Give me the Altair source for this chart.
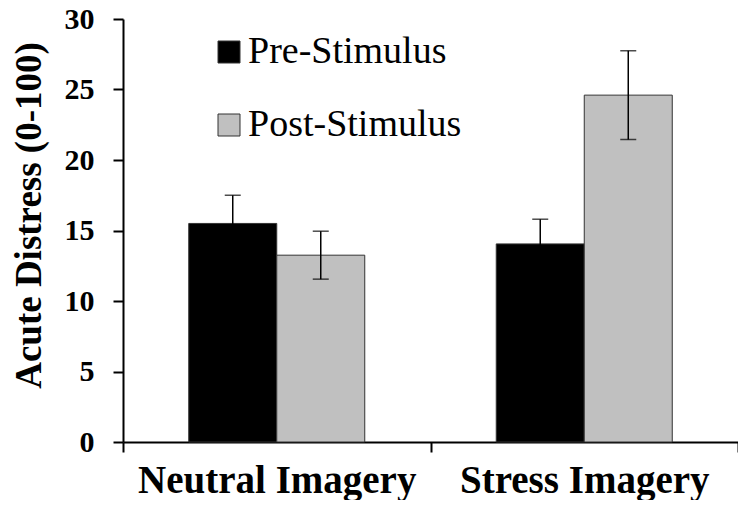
import altair as alt
import pandas as pd

categories = ["Neutral Imagery", "Stress Imagery"]
phases = ["Pre-Stimulus", "Post-Stimulus"]
pre_mean = [15.5, 14.05]
post_mean = [13.25, 24.6]
pre_err = [2.0, 1.75]
post_err = [1.7, 3.15]
y_ticks = [0, 5, 10, 15, 20, 25, 30]
colors = ["#000000", "#c0c0c0"]

rows = []
for i, c in enumerate(categories):
    for p, m, e in ((phases[0], pre_mean[i], pre_err[i]), (phases[1], post_mean[i], post_err[i])):
        rows.append({"cond": c, "phase": p, "mean": m, "lo": m - e, "hi": m + e})
df = pd.DataFrame(rows)

FONT = "Liberation Serif"

x_enc = alt.X(
    "cond:N",
    sort=categories,
    title=None,
    scale=alt.Scale(paddingInner=0, paddingOuter=0),
    axis=alt.Axis(
        tickBand="extent",
        labelFontWeight="bold",
        labelFontSize=39,
        labelBaseline="alphabetic",
        labelPadding=40,
        labelAngle=0,
        labelLimit=600,
    ),
)
xoff = alt.XOffset("phase:N", sort=phases, scale=alt.Scale(paddingInner=0, paddingOuter=0.747))

y_enc = alt.Y(
    "mean:Q",
    scale=alt.Scale(domain=[0, 30], nice=False),
    axis=alt.Axis(
        values=y_ticks,
        title="Acute Distress (0-100)",
        titleFontWeight="bold",
        titleFontSize=37,
        titleBaseline="alphabetic",
        titleX=-83,
        titleY=196,
        labelFontWeight="bold",
        labelFontSize=30,
        labelPadding=19,
    ),
)

bars = alt.Chart(df).mark_bar(stroke="#333333", strokeWidth=1).encode(
    x=x_enc,
    xOffset=xoff,
    y=y_enc,
    color=alt.Color(
        "phase:N",
        sort=phases,
        scale=alt.Scale(domain=phases, range=colors),
        legend=alt.Legend(
            title=None,
            orient="none",
            legendX=87,
            legendY=14,
            symbolType="square",
            symbolSize=484,
            symbolStrokeColor="#333333",
            symbolStrokeWidth=1,
            labelFontSize=38,
            labelOffset=0,
            rowPadding=35,
            labelLimit=400,
        ),
    ),
)

err = alt.Chart(df).mark_rule(color="#000000", strokeWidth=1.5).encode(
    x=alt.X("cond:N", sort=categories),
    xOffset=xoff,
    y="lo:Q",
    y2="hi:Q",
)
cap_hi = alt.Chart(df).mark_tick(color="#000000", size=16, thickness=1.5).encode(
    x=alt.X("cond:N", sort=categories),
    xOffset=xoff,
    y="hi:Q",
)
cap_lo = alt.Chart(df).mark_tick(color="#000000", size=16, thickness=1.5).encode(
    x=alt.X("cond:N", sort=categories),
    xOffset=xoff,
    y="lo:Q",
)

chart = (
    alt.layer(bars, err, cap_hi, cap_lo)
    .properties(
        width=615,
        height=423,
        autosize=alt.AutoSizeParams(type="none"),
        padding={"left": 115, "top": 11, "right": 0, "bottom": 58},
    )
    .configure(font=FONT)
    .configure_view(stroke=None)
    .configure_axis(
        grid=False,
        domainColor="#000000",
        domainWidth=2,
        tickColor="#000000",
        tickWidth=2,
        tickSize=10,
        labelFont=FONT,
        titleFont=FONT,
        labelColor="#000000",
        titleColor="#000000",
    )
    .configure_legend(labelFont=FONT, labelColor="#000000")
)

chart.save("out.html", embed_options={"renderer": "svg", "actions": False})
